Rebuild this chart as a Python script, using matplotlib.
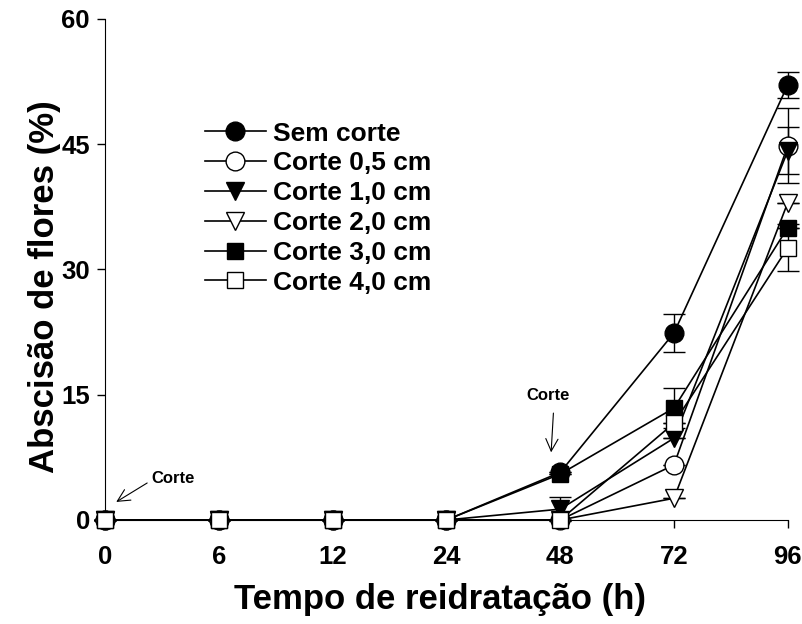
import numpy as np
import matplotlib.pyplot as plt

plt.rcParams['font.family'] = ['Liberation Sans', 'DejaVu Sans']
plt.rcParams['font.weight'] = 'bold'

# Horas de reidratação (eixo categórico)
tempos = ['0', '6', '12', '24', '48', '72', '96']

sem_corte = [0, 0, 0, 0, 5.7, 22.4, 52.1]
corte_05 = [0, 0, 0, 0, 0, 6.6, 44.8]
corte_10 = [0, 0, 0, 0, 1.3, 9.8, 44.2]
corte_20 = [0, 0, 0, 0, 0, 2.6, 38.0]
corte_30 = [0, 0, 0, 0, 5.5, 13.4, 35.0]
corte_40 = [0, 0, 0, 0, 0, 11.6, 32.6]

err_sem = [0, 0, 0, 0, 0, 2.3, 1.6]
err_05 = [0, 0, 0, 0, 0, 0, 4.5]
err_10 = [0, 0, 0, 0, 1.4, 0, 2.8]
err_20 = [0, 0, 0, 0, 0, 0, 0]
err_30 = [0, 0, 0, 0, 0, 2.4, 0]
err_40 = [0, 0, 0, 0, 0, 0, 2.8]

series = [
    ('Sem corte', sem_corte, err_sem, 'o', 'black'),
    ('Corte 0,5 cm', corte_05, err_05, 'o', 'white'),
    ('Corte 1,0 cm', corte_10, err_10, 'v', 'black'),
    ('Corte 2,0 cm', corte_20, err_20, 'v', 'white'),
    ('Corte 3,0 cm', corte_30, err_30, 's', 'black'),
    ('Corte 4,0 cm', corte_40, err_40, 's', 'white'),
]
tamanhos = {'o': 13.5, 'v': 13, 's': 11}

fig = plt.figure(figsize=(8.03, 6.24), dpi=100)
ax = fig.add_axes([0.131, 0.1667, 0.85, 0.803])

x = np.arange(len(tempos))
for nome, vals, err, mk, fc in series:
    ax.errorbar(x, vals, yerr=err, color='black', lw=1.2, elinewidth=1,
                capsize=8, capthick=1, marker=mk, ms=tamanhos[mk], mfc=fc,
                mec='black', mew=1, label=nome, clip_on=False, zorder=3)

ax.set_xlim(0, 6)
ax.set_ylim(0, 60)
ax.set_xticks(x)
ax.set_xticklabels(tempos)
ax.set_yticks([0, 15, 30, 45, 60])
ax.tick_params(direction='out', length=6, width=1, labelsize=18.5)
ax.tick_params(axis='x', pad=12)
ax.tick_params(axis='y', pad=5)
ax.spines['top'].set_visible(False)
ax.spines['right'].set_visible(False)

fig.text(440 / 803, 1 - 600 / 624, 'Tempo de reidratação (h)', fontsize=25,
         fontweight='bold', ha='center', va='center')
fig.text(45 / 803, 1 - 287 / 624, 'Abscisão de flores (%)', fontsize=25,
         fontweight='bold', ha='center', va='center', rotation=90)

handles, labels = ax.get_legend_handles_labels()
handles = [h[0] for h in handles]
ax.legend(handles, labels, loc='upper left', bbox_to_anchor=(0.146, 0.795),
          frameon=False, fontsize=19, handlelength=2.3, labelspacing=0.22,
          handletextpad=0.3, borderpad=0, borderaxespad=0)

# setas indicando o momento do corte
seta = dict(arrowstyle='->', lw=0.8, color='black', mutation_scale=22,
            shrinkA=0, shrinkB=0)
ax.text(3.89, 14.85, 'Corte', fontsize=12, fontweight='bold',
        ha='center', va='center')
ax.annotate('', xy=(3.92, 8.1), xytext=(3.94, 12.8), arrowprops=seta)
ax.text(0.6, 5.0, 'Corte', fontsize=12, fontweight='bold',
        ha='center', va='center')
ax.annotate('', xy=(0.097, 2.16), xytext=(0.369, 4.43), arrowprops=seta)

fig.savefig('out.png', dpi=100)
